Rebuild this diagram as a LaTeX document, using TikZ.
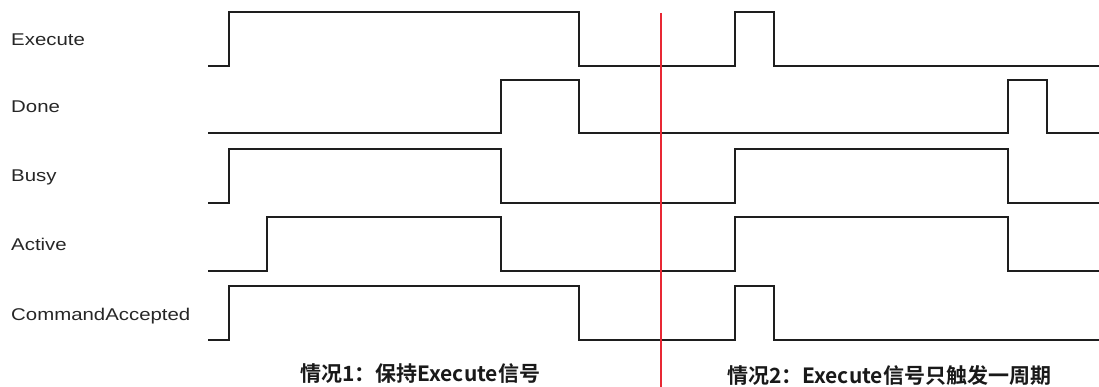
\documentclass[tikz,border=0pt]{standalone}
\usepackage{fontspec}
\setmainfont{Liberation Sans}
\newfontfamily\labelfont[FakeStretch=1.2]{Liberation Sans}
\newfontfamily\cjkfont{Noto Sans CJK SC}[BoldFont={* Bold}]
\definecolor{sigcol}{RGB}{30,30,30}
\definecolor{markred}{RGB}{232,40,52}
\tikzset{
  x=1pt,y=-1pt,
  signal/.style={draw=sigcol,line width=1.7pt,line join=miter},
  siglabel/.style={anchor=base west,inner sep=0pt,font=\labelfont\fontsize{17}{17}\selectfont,text=black!85},
  caselabel/.style={anchor=base west,inner sep=0pt,font=\cjkfont\bfseries\fontsize{21}{21}\selectfont,text=black!90},
  divider/.style={draw=markred,line width=1.3pt}
}
\begin{document}
\begin{tikzpicture}
\useasboundingbox (0,0) rectangle (1099,387);
% labels
\node[siglabel] (lexec) at (11,46) {Execute};
\node[siglabel] (ldone) at (11,113) {Done};
\node[siglabel] (lbusy) at (11,182) {Busy};
\node[siglabel] (lact) at (11,251) {Active};
\node[siglabel] (lca) at (11,320) {CommandAccepted};
% Execute
\draw[signal] (208,66) -- (229,66) -- (229,12) -- (579,12) -- (579,66) -- (735,66) -- (735,12) -- (774,12) -- (774,66) -- (1099,66);
% Done
\draw[signal] (208,133) -- (501,133) -- (501,80) -- (579,80) -- (579,133) -- (1008,133) -- (1008,80) -- (1047,80) -- (1047,133) -- (1099,133);
% Busy
\draw[signal] (208,203) -- (229,203) -- (229,149) -- (501,149) -- (501,203) -- (735,203) -- (735,149) -- (1008,149) -- (1008,203) -- (1099,203);
% Active
\draw[signal] (208,271) -- (267,271) -- (267,217) -- (501,217) -- (501,271) -- (735,271) -- (735,217) -- (1008,217) -- (1008,271) -- (1099,271);
% CommandAccepted
\draw[signal] (208,340) -- (229,340) -- (229,286) -- (579,286) -- (579,340) -- (735,340) -- (735,286) -- (774,286) -- (774,340) -- (1099,340);
% divider
\coordinate (dtop) at (661,13);
\coordinate (dbot) at (661,387);
\draw[divider] (dtop) -- (dbot);
% case labels
\node[caselabel] (case1) at (300,381) {情况1：保持Execute信号};
\node[caselabel] (case2) at (727,383) {情况2：Execute信号只触发一周期};
\end{tikzpicture}
\end{document}
